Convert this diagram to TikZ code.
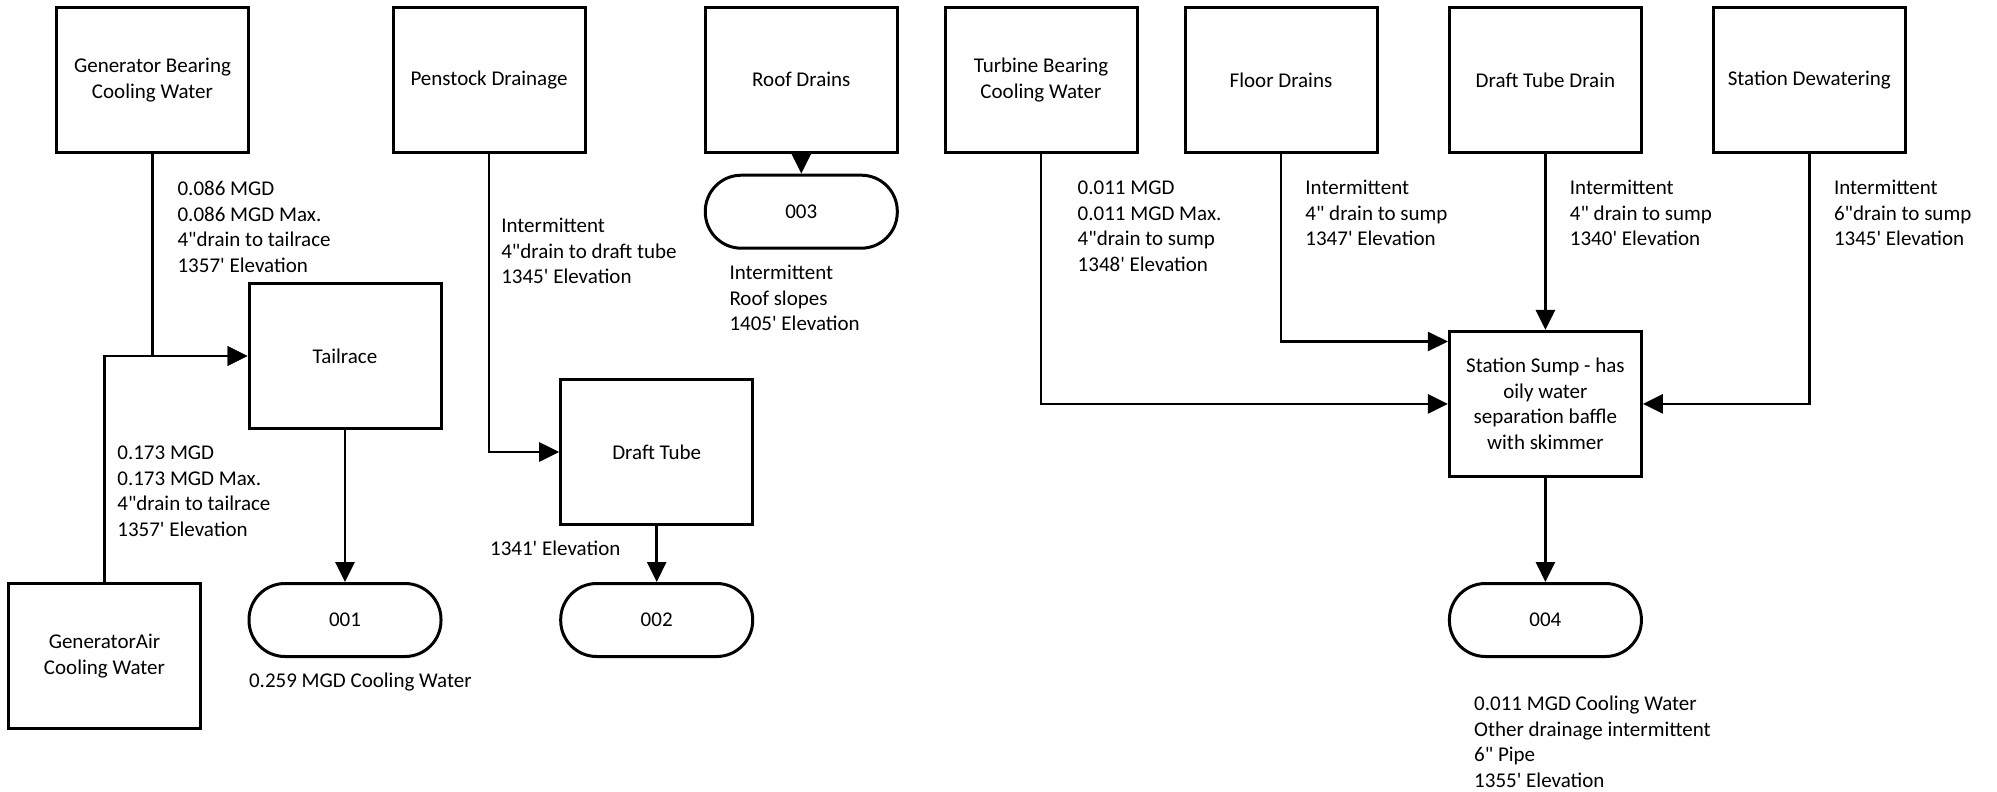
\documentclass[tikz,border=0pt]{standalone}
\usepackage{fontspec}
\newfontfamily\carlito{Carlito}
\usetikzlibrary{arrows.meta,calc}
\newcommand{\firstline}{\rule{0pt}{8pt}}
\begin{document}
\begin{tikzpicture}[x=0.5pt,y=-0.5pt,
  font=\carlito\fontsize{10.5pt}{12.8pt}\selectfont,
  box/.style={draw,line width=1.5pt,minimum width=96pt,minimum height=72.5pt,inner sep=0pt,align=center},
  term/.style={draw,line width=1.5pt,rounded corners=18pt,minimum width=96pt,minimum height=36.5pt,inner sep=0pt},
  flow/.style={line width=1.4pt,-{Triangle[length=10pt,width=9.5pt]}},
  note/.style={anchor=north west,align=left,inner sep=0pt}]
\useasboundingbox (0,0) rectangle (1997,792);

% source boxes
\node[box] (genbear) at (152.5,79.8) {Generator Bearing\\Cooling Water};
\node[box] (penstock) at (489,79.8) {Penstock Drainage};
\node[box] (roof) at (801.3,79.8) {Roof Drains};
\node[box] (turbine) at (1041,79.8) {Turbine Bearing\\Cooling Water};
\node[box] (floor) at (1281,79.8) {Floor Drains};
\node[box] (dtdrain) at (1545.4,79.8) {Draft Tube Drain};
\node[box] (dewater) at (1809.3,79.8) {Station Dewatering};

% intermediate boxes
\node[box] (tailrace) at (345,356) {Tailrace};
\node[box] (draft) at (656.7,452) {Draft Tube};
\node[box] (genair) at (104.5,655.8) {GeneratorAir\\Cooling Water};
\node[box] (sump) at (1545.4,403.9) {Station Sump - has\\oily water\\separation baffle\\with skimmer};

% outfalls
\node[term] (o1) at (345,620) {001};
\node[term] (o2) at (656.7,620) {002};
\node[term] (o3) at (801.3,211.7) {003};
\node[term] (o4) at (1545.4,620) {004};

% connectors
\draw[flow] (genbear.south) |- (tailrace.west);
\draw[flow] (genair.north) |- (tailrace.west);
\draw[flow] (tailrace.south) -- (o1.north);
\draw[flow] (penstock.south) |- (draft.west);
\draw[flow] (draft.south) -- (o2.north);
\draw[flow] (roof.south) -- (o3.north);
\draw[flow] (turbine.south) |- (sump.west);
\draw[flow] (floor.south) |- ([yshift=-5.8pt]sump.north west);
\draw[flow] (dtdrain.south) -- (sump.north);
\draw[flow] (dewater.south) |- (sump.east);
\draw[flow] (sump.south) -- (o4.north);

% labels (top = first baseline - 16px)
\node[note] (l1) at (177.2,179) {\firstline 0.086 MGD\\0.086 MGD Max.\\4"drain to tailrace\\1357' Elevation};
\node[note] (l2) at (117,443) {\firstline 0.173 MGD\\0.173 MGD Max.\\4"drain to tailrace\\1357' Elevation};
\node[note] (l3) at (248.7,670.7) {\firstline 0.259 MGD Cooling Water};
\node[note] (l4) at (500.9,216) {\firstline Intermittent\\4"drain to draft tube\\1345' Elevation};
\node[note] (l5) at (489.7,539) {\firstline 1341' Elevation};
\node[note] (l6) at (729.1,263.3) {\firstline Intermittent\\Roof slopes\\1405' Elevation};
\node[note] (l7) at (1077.3,178.3) {\firstline 0.011 MGD\\0.011 MGD Max.\\4"drain to sump\\1348' Elevation};
\node[note] (l8) at (1305,178) {\firstline Intermittent\\4" drain to sump\\1347' Elevation};
\node[note] (l9) at (1569.5,178) {\firstline Intermittent\\4" drain to sump\\1340' Elevation};
\node[note] (l10) at (1833.6,178) {\firstline Intermittent\\6"drain to sump\\1345' Elevation};
\node[note] (l11) at (1473.8,694) {\firstline 0.011 MGD Cooling Water\\Other drainage intermittent\\6" Pipe\\1355' Elevation};
\end{tikzpicture}
\end{document}
